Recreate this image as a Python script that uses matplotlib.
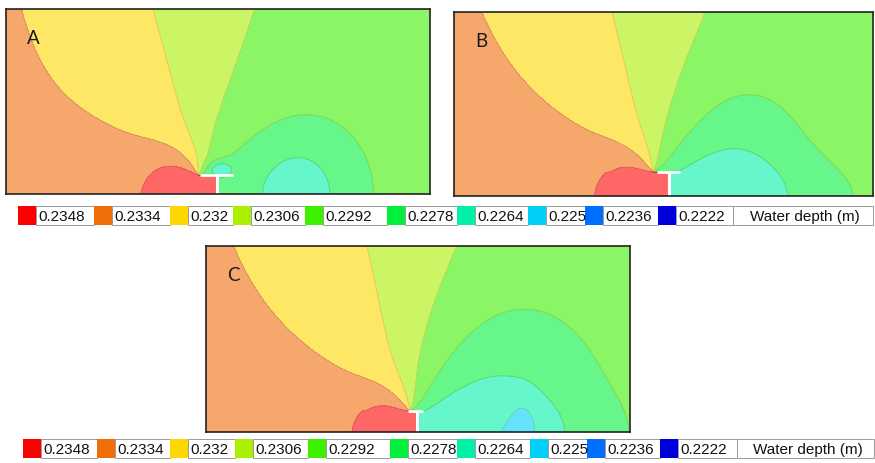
import numpy as np
import matplotlib.pyplot as plt
from matplotlib.patches import Rectangle

plt.rcParams['font.family'] = ['Liberation Sans', 'DejaVu Sans']

# water-depth classes (lower bound of each band, m) and their legend colours
depth_levels = [0.2348, 0.2334, 0.232, 0.2306, 0.2292, 0.2278, 0.2264, 0.225, 0.2236, 0.2222]
depth_labels = ['0.2348', '0.2334', '0.232', '0.2306', '0.2292', '0.2278', '0.2264', '0.225', '0.2236', '0.2222']
legend_colors = ['#ff0000', '#f06e0a', '#ffd700', '#aaee00', '#3cf000',
                 '#00f03c', '#00f0a8', '#00d0f8', '#006eff', '#0000dc']
legend_title = 'Water depth (m)'

panel_names = ['A', 'B', 'C']

# spur dike geometry per run (panel pixels, origin bottom-left)
tip_x = [192, 199, 204]
crest_y = [19, 24, 21]
stem_x = [211, 215, 211]
crest_span = [(194, 227), (203, 226), (202, 217)]
# drawdown strength at the dike tip
tip_drop = [0.003, 0.004, 0.005]
# rise of the surface towards the upstream boundary: (height, length)
inlet_rise = [(0.00064, 28), (0.0006, 55), (0.0006, 55)]
# wake depressions downstream of the dike: (x, y, depth, half-width, half-height)
wakes = [
    [(292, 0, 0.0018, 45, 52), (300, 0, 0.0008, 66, 90), (214, 25, 0.0022, 13, 8)],
    [(285, 0, 0.0018, 60, 100), (290, 0, 0.001, 100, 40)],
    [(300, 0, 0.002, 80, 120), (300, 0, 0.0009, 90, 40), (318, 0, 0.0012, 12, 30)],
]

# free-surface model around the dike tip
h_mid = 0.2314      # depth along the vertical through the tip
fan_rate = 0.00229  # change of depth per radian around the tip
rise_far, rise_near = 0.0028, 0.003
drop_far = 0.0015
slope = 1.7e-6      # surface slope downstream of the tip, per pixel


def depth_field(X, Y, i):
    u = X - tip_x[i]
    v = Y - crest_y[i]
    r = np.hypot(u, v)
    th = np.arctan2(v, u)
    behind = (X <= stem_x[i]) & (Y < crest_y[i])
    th = np.where(behind, th + 2 * np.pi, th)
    f = fan_rate * (th - np.pi / 2)
    ap = rise_far + rise_near * np.exp(-r / 30)
    an = drop_far + tip_drop[i] * np.exp(-r / 40)
    fan = np.where(f > 0, ap * np.tanh(f / ap), an * np.tanh(f / an))
    c_in, l_in = inlet_rise[i]
    h = h_mid + fan - slope * np.maximum(u, 0) + c_in * np.exp(-X / l_in)
    # backwater mound in front of the dike
    mound = 0.0016 * np.exp(-((X - (tip_x[i] - 21)) / 36) ** 2 - (Y / 40) ** 2)
    h += np.where((X > stem_x[i]) & (Y < crest_y[i]), 0, mound)
    for xc, yc, a, sx, sy in wakes[i]:
        w = a * np.exp(-((X - xc) / sx) ** 2 - ((Y - yc) / sy) ** 2)
        h -= np.where(behind, 0, w)
    return h


def pastel(c, a=0.6):
    rgb = np.array(plt.matplotlib.colors.to_rgb(c))
    return tuple(rgb * a + (1 - a))


bounds = [0.2] + sorted(depth_levels)[1:] + [0.26]
fill_colors = [pastel(c) for c in legend_colors[::-1]]

W_FIG, H_FIG = 875, 464
fig = plt.figure(figsize=(W_FIG / 100, H_FIG / 100), dpi=100)

# panel frames in figure pixels: left, top, right, bottom
frames = [(6, 10, 430, 195), (454, 13, 873, 197), (206, 247, 630, 433)]

for i, (l, t, rgt, b) in enumerate(frames):
    W, H = rgt - l, b - t
    ax = fig.add_axes([l / W_FIG, (H_FIG - b) / H_FIG, W / W_FIG, H / H_FIG])
    xs = np.linspace(0, W, 700)
    ys = np.linspace(0, H, 320)
    X, Y = np.meshgrid(xs, ys)
    h = depth_field(X, Y, i)
    ax.contourf(X, Y, h, levels=bounds, colors=fill_colors)
    ax.contour(X, Y, h, levels=bounds[1:-1], colors='k', linewidths=0.7, alpha=0.12)
    # dike drawn in white
    ax.plot([stem_x[i], stem_x[i]], [0, crest_y[i]], color='white', lw=2.2, solid_capstyle='butt')
    ax.plot(crest_span[i], [crest_y[i], crest_y[i]], color='white', lw=2.0, solid_capstyle='butt')
    ax.set_xlim(0, W)
    ax.set_ylim(0, H)
    ax.set_xticks([])
    ax.set_yticks([])
    for sp in ax.spines.values():
        sp.set_linewidth(1.2)
        sp.set_color('#222222')
    ax.text(0.065, 0.845, panel_names[i], transform=ax.transAxes, fontsize=13.5,
            ha='center', va='center', color='#1a1a1a', family=['Lato', 'DejaVu Sans'])

# legend strips
over = fig.add_axes([0, 0, 1, 1])
over.set_xlim(0, W_FIG)
over.set_ylim(H_FIG, 0)
over.axis('off')
over.patch.set_alpha(0)

row_top = [207, 440]
row_h = 19
swatch_x = [[18, 94, 170, 233, 305, 387, 457, 528, 585, 658],
            [23, 97, 170, 235, 308, 390, 457, 530, 587, 660]]
values_end = [733, 737]
title_end = [873, 874]
sw = 18

for row in range(2):
    y0 = row_top[row]
    xs_row = swatch_x[row] + [values_end[row]]
    for j, col in enumerate(legend_colors):
        x0 = xs_row[j]
        x1 = xs_row[j + 1]
        over.add_patch(Rectangle((x0 + sw, y0), x1 - x0 - sw, row_h, facecolor='white',
                                 edgecolor='#9a9a9a', lw=0.7))
        over.add_patch(Rectangle((x0, y0), sw, row_h, facecolor=col, edgecolor='none'))
        over.text(x0 + sw + 2, y0 + row_h / 2 + 0.5, depth_labels[j], fontsize=11,
                  ha='left', va='center', color='#111111')
    over.add_patch(Rectangle((values_end[row], y0), title_end[row] - values_end[row], row_h,
                             facecolor='white', edgecolor='#9a9a9a', lw=0.7))
    over.text((values_end[row] + title_end[row]) / 2 + 2, y0 + row_h / 2 + 0.5, legend_title,
              fontsize=11, ha='center', va='center', color='#111111')

fig.savefig('out.png', dpi=100)
